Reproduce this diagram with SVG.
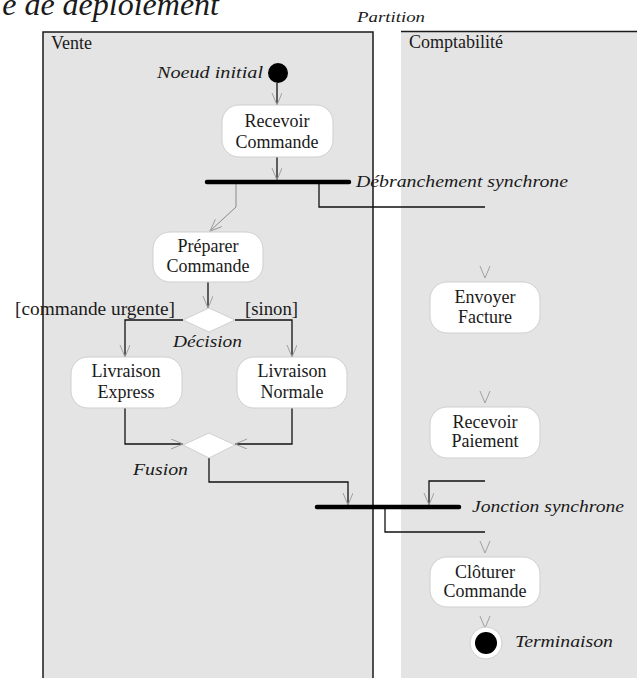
<svg xmlns="http://www.w3.org/2000/svg" width="637" height="678" viewBox="0 0 637 678">
<style>
.lane{fill:#e4e4e4}
.border{fill:none;stroke:#1a1a1a;stroke-width:1.5}
.act{fill:#ffffff;stroke:#cfcfcf;stroke-width:1}
.dia{fill:#ffffff;stroke:#d0d0d0;stroke-width:1}
.t{font-family:"Liberation Serif","Times New Roman",serif;font-size:18px;fill:#1a1a1a}
.c{text-anchor:middle}
.it{font-family:"Liberation Serif","Times New Roman",serif;font-style:italic;font-size:16px;fill:#1a1a1a}
.ln{fill:none;stroke:#111;stroke-width:1.3}
.gl{fill:none;stroke:#8a8a8a;stroke-width:1}
.bar{stroke:#000;stroke-width:4.5;stroke-linecap:round}
.v{fill:none;stroke:#a0a0a0;stroke-width:1}
</style>
<defs>
<marker id="arr" markerUnits="userSpaceOnUse" markerWidth="14" markerHeight="14" refX="12" refY="5" orient="auto">
<path d="M0,0 L12,5 L0,10" fill="none" stroke="#a0a0a0" stroke-width="1"/>
</marker>
</defs>

<text class="it" x="219" y="15" text-anchor="end" style="font-size:32px">e de déploiement</text>
<text class="it" x="357" y="22" textLength="68" lengthAdjust="spacingAndGlyphs" style="font-size:14px">Partition</text>

<g id="lane-vente">
<rect class="lane" x="43" y="32" width="330" height="660"/>
<rect class="border" x="43" y="32" width="330" height="660"/>
<text class="t" x="51" y="49">Vente</text>
</g>
<g id="lane-comptabilite">
<rect class="lane" x="401" y="31" width="240" height="660"/>
<line x1="401" y1="31.5" x2="637" y2="31.5" stroke="#1a1a1a" stroke-width="1.5"/>
<text class="t" x="409" y="48">Comptabilité</text>
</g>

<g id="connectors">
<path class="ln" d="M277,83 V105" marker-end="url(#arr)"/>
<path class="ln" d="M277,157 V180" marker-end="url(#arr)"/>
<path class="gl" d="M236,184 V207 L210,231" marker-end="url(#arr)"/>
<path class="ln" d="M319,184 V207 H485"/>
<path class="v" d="M480,266 L485,278 L490,266"/>
<path class="ln" d="M208,282 V308" marker-end="url(#arr)"/>
<path class="ln" d="M183,320 H125 V357" marker-end="url(#arr)"/>
<path class="ln" d="M235,320 H292 V357" marker-end="url(#arr)"/>
<path class="ln" d="M125,408 V444 H183" marker-end="url(#arr)"/>
<path class="ln" d="M292,408 V444 H235" marker-end="url(#arr)"/>
<path class="v" d="M480,391 L485,403 L490,391"/>
<path class="ln" d="M209,458 V482 H348 V505" marker-end="url(#arr)"/>
<path class="ln" d="M485,481 H429 V505" marker-end="url(#arr)"/>
<path class="ln" d="M385,509 V532 H485"/>
<path class="v" d="M480,541 L485,553 L490,541"/>
<path class="v" d="M480,616 L485,628 L490,616"/>
</g>

<g id="initial">
<circle cx="278" cy="73" r="10" fill="#000"/>
<text class="it" x="157" y="78" textLength="106" lengthAdjust="spacingAndGlyphs">Noeud initial</text>
</g>

<g id="recevoir-commande">
<rect class="act" x="222" y="105" width="111" height="52" rx="17"/>
<text class="t c" x="277" y="127">Recevoir</text>
<text class="t c" x="277" y="148">Commande</text>
</g>

<g id="fork">
<line class="bar" x1="207" y1="182" x2="349" y2="182"/>
<text class="it" x="356" y="187" textLength="212" lengthAdjust="spacingAndGlyphs">Débranchement synchrone</text>
</g>

<g id="preparer-commande">
<rect class="act" x="153" y="232" width="110" height="50" rx="17"/>
<text class="t c" x="208" y="252">Préparer</text>
<text class="t c" x="208" y="272">Commande</text>
</g>

<g id="decision">
<polygon class="dia" points="209,308 235,320 209,332 183,320"/>
<text class="it" x="173" y="347" textLength="69" lengthAdjust="spacingAndGlyphs">Décision</text>
<text class="t" x="15" y="315" textLength="160" lengthAdjust="spacingAndGlyphs">[commande urgente]</text>
<text class="t" x="245" y="315" textLength="53" lengthAdjust="spacingAndGlyphs">[sinon]</text>
</g>

<g id="livraison-express">
<rect class="act" x="71" y="357" width="111" height="51" rx="17"/>
<text class="t c" x="126" y="377">Livraison</text>
<text class="t c" x="126" y="398">Express</text>
</g>

<g id="livraison-normale">
<rect class="act" x="237" y="357" width="110" height="51" rx="17"/>
<text class="t c" x="292" y="377">Livraison</text>
<text class="t c" x="292" y="398">Normale</text>
</g>

<g id="fusion">
<polygon class="dia" points="209,433 235,445 209,458 183,445"/>
<text class="it" x="133" y="475" textLength="55" lengthAdjust="spacingAndGlyphs">Fusion</text>
</g>

<g id="envoyer-facture">
<rect class="act" x="430" y="282" width="110" height="51" rx="17"/>
<text class="t c" x="485" y="303">Envoyer</text>
<text class="t c" x="485" y="323">Facture</text>
</g>

<g id="recevoir-paiement">
<rect class="act" x="430" y="407" width="110" height="51" rx="17"/>
<text class="t c" x="485" y="428">Recevoir</text>
<text class="t c" x="485" y="447">Paiement</text>
</g>

<g id="join">
<line class="bar" x1="317" y1="507" x2="459" y2="507"/>
<text class="it" x="472" y="512" textLength="152" lengthAdjust="spacingAndGlyphs">Jonction synchrone</text>
</g>

<g id="cloturer-commande">
<rect class="act" x="430" y="557" width="110" height="50" rx="17"/>
<text class="t c" x="485" y="578">Clôturer</text>
<text class="t c" x="485" y="597">Commande</text>
</g>

<g id="final">
<circle cx="486" cy="643" r="16" fill="#fff" stroke="#d0d0d0" stroke-width="1"/>
<circle cx="486" cy="643" r="11" fill="#000"/>
<text class="it" x="515" y="647" textLength="98" lengthAdjust="spacingAndGlyphs">Terminaison</text>
</g>
</svg>
